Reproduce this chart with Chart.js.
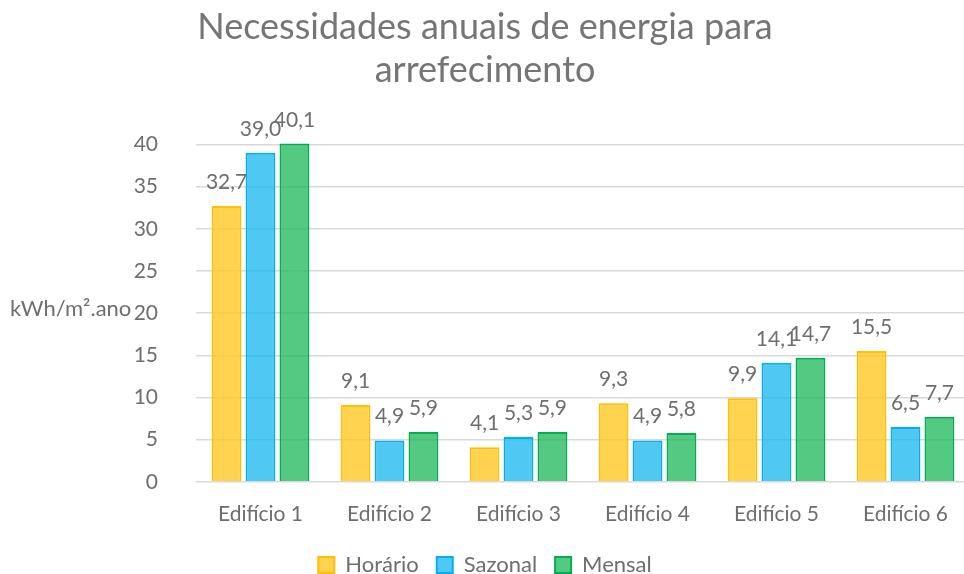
<html>
<head>
<script src="https://cdn.jsdelivr.net/npm/chart.js@4.4.1/dist/chart.umd.min.js"></script>
<style>
 body { margin: 0; overflow: hidden; background: #fff; }
 #wrap { width: 976px; height: 574px; }
</style>
</head>
<body>
<div id="wrap"><canvas id="myChart"></canvas></div>
<script>
 var buildings = ["Edifício 1", "Edifício 2", "Edifício 3", "Edifício 4", "Edifício 5", "Edifício 6"];
 var horario = [32.7, 9.1, 4.1, 9.3, 9.9, 15.5];
 var sazonal = [39.0, 4.9, 5.3, 4.9, 14.1, 6.5];
 var mensal = [40.1, 5.9, 5.9, 5.8, 14.7, 7.7];
 var yTicks = [0, 5, 10, 15, 20, 25, 30, 35, 40];

 var grey = "#6e6e6e";
 var font = "Lato, 'Open Sans', sans-serif";

 // values over the bars, with comma decimals
 var valueLabels = {
 id: "valueLabels",
 afterDatasetsDraw: function(chart) {
 var ctx = chart.ctx;
 ctx.save();
 ctx.font = "21px " + font;
 ctx.fillStyle = grey;
 ctx.textAlign = "center";
 ctx.textBaseline = "alphabetic";
 chart.data.datasets.forEach(function(ds, i) {
 chart.getDatasetMeta(i).data.forEach(function(bar, j) {
 var txt = ds.data[j].toFixed(1).replace(".", ",");
 ctx.fillText(txt, bar.x, bar.y - 17);
 });
 });
 ctx.restore();
 }
 };

 // horizontal y axis caption
 var yCaption = {
 id: "yCaption",
 afterDraw: function(chart) {
 var ctx = chart.ctx;
 var y = chart.scales.y.getPixelForValue(20);
 ctx.save();
 ctx.font = "22px " + font;
 ctx.fillStyle = grey;
 ctx.textAlign = "left";
 ctx.textBaseline = "middle";
 ctx.fillText("kWh/m².ano", 10, y - 4);
 ctx.restore();
 }
 };

 new Chart("myChart", {
 type: "bar",
 data: {
 labels: buildings,
 datasets: [
 { label: "Horário", data: horario, backgroundColor: "rgba(255,197,30,0.78)", borderColor: "#FFC000", borderWidth: 2 },
 { label: "Sazonal", data: sazonal, backgroundColor: "rgba(24,184,240,0.76)", borderColor: "#00B0F0", borderWidth: 2 },
 { label: "Mensal", data: mensal, backgroundColor: "rgba(16,180,80,0.72)", borderColor: "#00B050", borderWidth: 2 }
 ]
 },
 plugins: [valueLabels, yCaption],
 options: {
 responsive: true,
 maintainAspectRatio: false,
 animation: false,
 categoryPercentage: 0.79,
 barPercentage: 0.88,
 clip: false,
 layout: { padding: { left: 0, right: 6, top: 6, bottom: -12 } },
 plugins: {
 title: {
 display: true,
 text: ["Necessidades anuais de energia para", "arrefecimento"],
 color: "#757575",
 font: { family: font, size: 36, weight: "normal" },
 lineHeight: 1.4,
 padding: { top: 0, bottom: 52 }
 },
 legend: {
 position: "bottom",
 labels: {
 color: grey,
 font: { family: font, size: 22 },
 boxWidth: 16,
 boxHeight: 16,
 padding: 18
 }
 },
 tooltip: { enabled: false }
 },
 scales: {
 x: {
 afterFit: function(axis) { axis.height -= 3; },
 grid: { display: false },
 border: { display: false },
 ticks: { color: grey, font: { family: font, size: 21 }, padding: 12 }
 },
 y: {
 min: 0,
 max: 40,
 afterBuildTicks: function(axis) {
 axis.ticks = yTicks.map(function(v) { return { value: v }; });
 },
 afterFit: function(axis) { axis.width = 196; },
 grid: { color: "#d9d9d9", lineWidth: 1.5, drawTicks: false },
 border: { display: false },
 ticks: { color: grey, font: { family: font, size: 21 }, padding: 38 }
 }
 }
 }
 });
</script>
</body>
</html>
